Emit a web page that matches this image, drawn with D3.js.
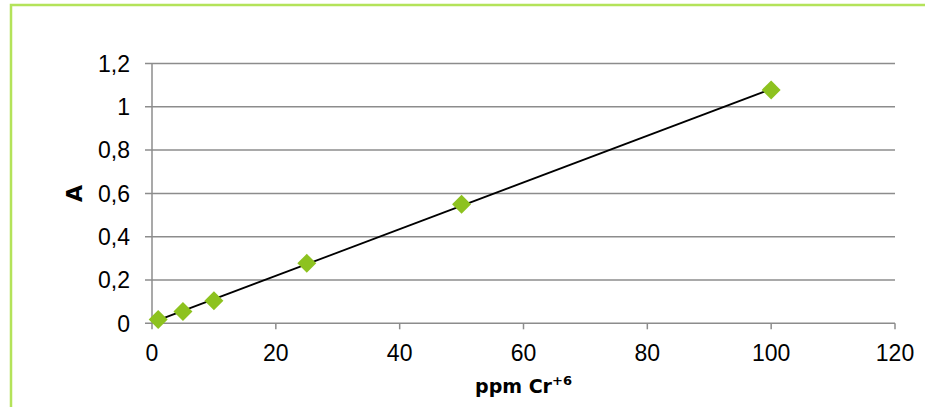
<!DOCTYPE html>
<html>
<head>
<meta charset="utf-8">
<script src="https://cdn.jsdelivr.net/npm/d3@7"></script>
<style>
  body { margin: 0; background: #fff; }
  svg { display: block; font-family: "Liberation Sans", Arial, sans-serif; }
</style>
</head>
<body>
<div id="chart"></div>
<script>
// concentration (ppm Cr+6) and absorbance
const ppm = [1, 5, 10, 25, 50, 100];
const absorbance = [0.018, 0.054, 0.104, 0.277, 0.55, 1.078];
const xTicks = [0, 20, 40, 60, 80, 100, 120];
const yTicks = [0, 0.2, 0.4, 0.6, 0.8, 1, 1.2];

const width = 925, height = 407;
const margin = { left: 152, right: 30, top: 63.5, bottom: 83.7 };

const svg = d3.select("#chart").append("svg")
  .attr("width", width)
  .attr("height", height);

// light green outer frame (runs off right and bottom edges)
svg.append("rect")
  .attr("x", 11).attr("y", 5)
  .attr("width", width).attr("height", height)
  .attr("fill", "none")
  .attr("stroke", "#b4e35a")
  .attr("stroke-width", 2.5);

const x = d3.scaleLinear().domain([0, 120]).range([margin.left, width - margin.right]);
const y = d3.scaleLinear().domain([0, 1.2]).range([height - margin.bottom, margin.top]);

const fmt = d => String(d).replace(".", ",");

// horizontal gridlines
svg.append("g")
  .selectAll("line")
  .data(yTicks)
  .join("line")
  .attr("x1", x(0) - 7).attr("x2", x(120))
  .attr("y1", d => y(d)).attr("y2", d => y(d))
  .attr("stroke", "#8c8c8c")
  .attr("stroke-width", 1.5);

// y axis line
svg.append("line")
  .attr("x1", x(0)).attr("x2", x(0))
  .attr("y1", y(1.2)).attr("y2", y(0))
  .attr("stroke", "#8c8c8c").attr("stroke-width", 1.5);

// x axis ticks
svg.append("g")
  .selectAll("line")
  .data(xTicks)
  .join("line")
  .attr("x1", d => x(d)).attr("x2", d => x(d))
  .attr("y1", y(0)).attr("y2", y(0) + 6)
  .attr("stroke", "#8c8c8c").attr("stroke-width", 1.5);

// tick labels
svg.append("g")
  .selectAll("text")
  .data(yTicks)
  .join("text")
  .attr("x", 130)
  .attr("y", d => y(d))
  .attr("dy", "0.36em")
  .attr("text-anchor", "end")
  .attr("font-size", 23)
  .attr("fill", "#000")
  .text(fmt);

svg.append("g")
  .selectAll("text")
  .data(xTicks)
  .join("text")
  .attr("x", d => x(d))
  .attr("y", 361)
  .attr("text-anchor", "middle")
  .attr("font-size", 23)
  .attr("fill", "#000")
  .text(fmt);

// axis titles
const xt = svg.append("text")
  .attr("x", x(60)).attr("y", 393)
  .attr("text-anchor", "middle")
  .attr("font-family", "DejaVu Sans")
  .attr("font-size", 19)
  .attr("font-weight", "bold");
xt.append("tspan").text("ppm Cr");
xt.append("tspan").attr("dy", -8).attr("font-size", 13).text("+6");

svg.append("text")
  .attr("transform", `translate(82,${y(0.6)}) rotate(-90)`)
  .attr("text-anchor", "middle")
  .attr("font-family", "DejaVu Sans")
  .attr("font-size", 22)
  .attr("font-weight", "bold")
  .text("A");

// linear trendline (least squares fit)
const mx = d3.mean(ppm), my = d3.mean(absorbance);
const slope = d3.sum(ppm, (v, i) => (v - mx) * (absorbance[i] - my)) /
              d3.sum(ppm, v => (v - mx) * (v - mx));
const intercept = my - slope * mx;
const ext = d3.extent(ppm);
svg.append("line")
  .attr("x1", x(ext[0])).attr("y1", y(intercept + slope * ext[0]))
  .attr("x2", x(ext[1])).attr("y2", y(intercept + slope * ext[1]))
  .attr("stroke", "#000")
  .attr("stroke-width", 1.8);

// diamond markers
const diamond = d3.symbol().type(d3.symbolSquare).size(180);
svg.append("g")
  .selectAll("path")
  .data(ppm.map((v, i) => [v, absorbance[i]]))
  .join("path")
  .attr("d", diamond)
  .attr("transform", d => `translate(${x(d[0])},${y(d[1])}) rotate(45)`)
  .attr("fill", "#8dc21f");

svg.selectAll("path").raise();
</script>
</body>
</html>
